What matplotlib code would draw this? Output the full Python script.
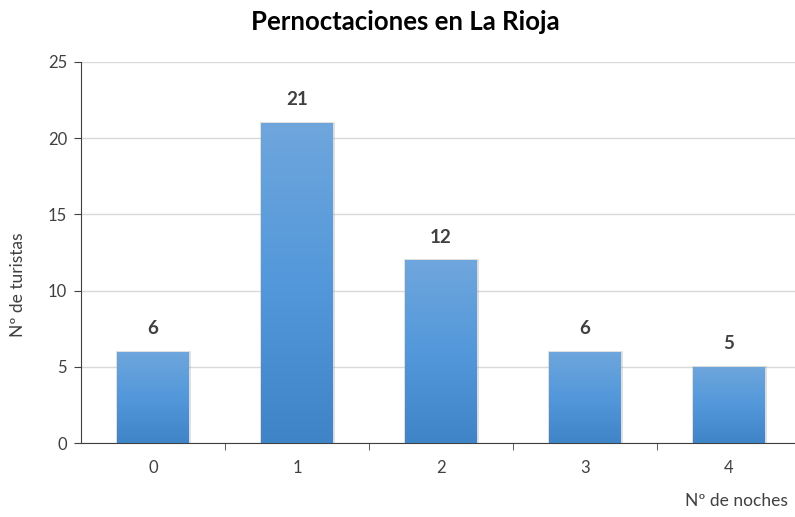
import numpy as np
import matplotlib.pyplot as plt
from matplotlib.colors import LinearSegmentedColormap

noches = ["0", "1", "2", "3", "4"]
turistas = [6, 21, 12, 6, 5]

plt.rcParams['font.family'] = ['Lato', 'DejaVu Sans']

fig = plt.figure(figsize=(7.95, 5.17), dpi=100)
ax = fig.add_axes([81/795, 74/517, 714/795, 381/517])

x = np.arange(len(noches))
bars = ax.bar(x, turistas, width=0.5, color="#5b9bd5", zorder=3)

# gradient inside bars (lighter top, darker bottom)
cmap = LinearSegmentedColormap.from_list("blu", ["#3f84c6", "#5398da", "#6fa6dd"])
grad = np.linspace(0, 1, 256).reshape(-1, 1)
for b in bars:
    bx, by = b.get_x(), b.get_y()
    w, h = b.get_width(), b.get_height()
    # soft shadow
    ax.bar(bx + w/2, h, width=w, bottom=0, color="none", edgecolor="#909090",
           linewidth=2.0, alpha=0.3, zorder=2)
    im = ax.imshow(grad, cmap=cmap, origin="lower", aspect="auto",
                   extent=(bx, bx + w, by, by + h), zorder=4)
    im.set_clip_path(b)

for xi, v in zip(x, turistas):
    ax.text(xi, v + 0.95, str(v), ha="center", va="bottom", fontsize=13.5,
            fontweight="bold", color="#404040")

ax.set_xlim(-0.5, 4.5 - 6/144)
ax.set_ylim(0, 25)
ax.set_yticks([0, 5, 10, 15, 20, 25])
ax.set_xticks(x)
ax.set_xticklabels(noches)
ax.set_xticks(np.arange(0.5, 4.5, 1), minor=True)
ax.tick_params(axis="x", which="major", length=0, pad=12, labelsize=12, labelcolor="#404040")
ax.tick_params(axis="x", which="minor", length=5, color="#404040")
ax.tick_params(axis="y", length=5, labelsize=12, labelcolor="#404040", color="#404040", pad=5)

ax.grid(axis="y", color="#d9d9d9", linewidth=1, zorder=0)
ax.set_axisbelow(True)
for s in ["top", "right"]:
    ax.spines[s].set_visible(False)
ax.spines["left"].set_color("#404040")
ax.spines["bottom"].set_color("#404040")

fig.text(0.51, 0.957, "Pernoctaciones en La Rioja", ha="center", va="center",
         fontsize=18.5, fontweight="bold", color="#000000")
fig.text(0.023, 0.449, "Nº de turistas", rotation=90, ha="center", va="center",
         fontsize=12.5, color="#404040")
fig.text(0.926, 0.015, "Nº de noches", ha="center", va="bottom",
         fontsize=12.5, color="#404040")

fig.savefig("out.png", dpi=100)
